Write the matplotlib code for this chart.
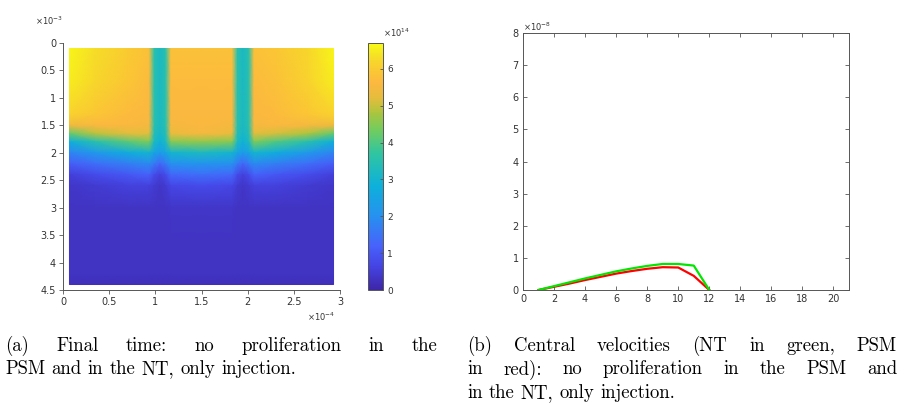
import numpy as np
import matplotlib
matplotlib.use('Agg')
import matplotlib.pyplot as plt
from matplotlib.colors import LinearSegmentedColormap
from matplotlib.ticker import FormatStrFormatter

# ---- data (scaled units: x 1e-4, y 1e-3, field 1e14, velocity 1e-8) ----
field_x = [0.07, 0.35, 0.7, 0.93, 0.99, 1.05, 1.11, 1.17, 1.5,
           1.83, 1.89, 1.95, 2.01, 2.07, 2.3, 2.65, 2.93]
field_y = [0.1, 0.7, 1.3, 1.5, 1.65, 1.8, 2.0, 2.2, 2.4, 2.6, 3.0, 3.6, 4.2, 4.4]
field_c = [
    [6.6, 6.3, 6.0, 5.8, 3.5, 3.2, 3.5, 5.8, 5.8, 5.8, 3.5, 3.2, 3.5, 5.8, 5.9, 6.2, 6.6],
    [6.5, 6.2, 5.9, 5.7, 3.5, 3.2, 3.5, 5.7, 5.7, 5.7, 3.5, 3.2, 3.5, 5.7, 5.8, 6.1, 6.5],
    [6.1, 5.9, 5.7, 5.6, 3.5, 3.2, 3.5, 5.6, 5.6, 5.6, 3.5, 3.2, 3.5, 5.6, 5.7, 5.9, 6.1],
    [5.4, 5.6, 5.6, 5.5, 3.5, 3.2, 3.5, 5.5, 5.6, 5.5, 3.5, 3.2, 3.5, 5.5, 5.6, 5.5, 5.4],
    [4.2, 4.9, 5.2, 5.2, 3.4, 3.1, 3.4, 5.3, 5.5, 5.3, 3.4, 3.1, 3.4, 5.2, 5.1, 4.8, 4.2],
    [2.8, 3.5, 4.1, 4.4, 3.2, 2.9, 3.2, 4.5, 4.6, 4.5, 3.2, 2.9, 3.2, 4.4, 4.0, 3.5, 2.8],
    [1.8, 2.2, 2.7, 3.0, 2.5, 2.3, 2.5, 3.0, 3.2, 3.0, 2.5, 2.3, 2.5, 3.0, 2.7, 2.2, 1.8],
    [1.1, 1.4, 1.7, 1.9, 1.6, 1.3, 1.6, 2.0, 2.1, 2.0, 1.6, 1.3, 1.6, 1.9, 1.7, 1.4, 1.1],
    [0.55, 0.8, 1.0, 1.2, 0.8, 0.6, 0.8, 1.3, 1.4, 1.3, 0.8, 0.6, 0.8, 1.2, 1.0, 0.8, 0.55],
    [0.35, 0.45, 0.6, 0.6, 0.45, 0.35, 0.45, 0.7, 0.8, 0.7, 0.45, 0.35, 0.45, 0.6, 0.6, 0.45, 0.35],
    [0.3, 0.3, 0.3, 0.3, 0.3, 0.3, 0.3, 0.35, 0.35, 0.35, 0.3, 0.3, 0.3, 0.3, 0.3, 0.3, 0.3],
    [0.3, 0.3, 0.3, 0.3, 0.3, 0.3, 0.3, 0.3, 0.3, 0.3, 0.3, 0.3, 0.3, 0.3, 0.3, 0.3, 0.3],
    [0.3, 0.3, 0.3, 0.3, 0.3, 0.3, 0.3, 0.3, 0.3, 0.3, 0.3, 0.3, 0.3, 0.3, 0.3, 0.3, 0.3],
    [0.2, 0.2, 0.2, 0.2, 0.2, 0.2, 0.2, 0.2, 0.2, 0.2, 0.2, 0.2, 0.2, 0.2, 0.2, 0.2, 0.2],
]
field_max = 6.7

vel_t = [1, 2, 3, 4, 5, 6, 7, 8, 9, 10, 11, 12]
vel_nt = [0, 0.12, 0.24, 0.36, 0.47, 0.58, 0.67, 0.75, 0.81, 0.81, 0.76, 0]
vel_psm = [0, 0.1, 0.2, 0.31, 0.41, 0.51, 0.59, 0.66, 0.71, 0.7, 0.44, 0]

caption_a = ["(a) Final time:  no proliferation in the",
             "PSM and in the NT, only injection."]
caption_b = ["(b) Central velocities (NT in green, PSM",
             "in red):  no proliferation in the PSM and",
             "in the NT, only injection."]

# parula-like colormap
parula = LinearSegmentedColormap.from_list('parula', [
    (0.00, (0.2422, 0.1504, 0.6603)),
    (0.10, (0.2700, 0.2700, 0.9000)),
    (0.18, (0.2780, 0.3870, 0.9850)),
    (0.30, (0.1500, 0.5700, 0.9400)),
    (0.42, (0.0500, 0.6900, 0.8600)),
    (0.55, (0.1800, 0.7700, 0.6400)),
    (0.65, (0.4500, 0.8000, 0.3700)),
    (0.72, (0.6800, 0.7700, 0.2400)),
    (0.78, (0.9000, 0.7400, 0.2400)),
    (0.84, (0.9900, 0.7200, 0.2500)),
    (0.90, (0.9800, 0.8000, 0.1900)),
    (0.95, (0.9600, 0.8800, 0.1500)),
    (1.00, (0.9769, 0.9839, 0.0805)),
])

W, H = 898, 418
axcol = '#555555'
txtcol = '#333333'
fig = plt.figure(figsize=(W / 100, H / 100), dpi=100)


def box(x0, y0, x1, y1):
    # pixel box -> figure fraction rect
    return [x0 / W, 1 - y1 / H, (x1 - x0) / W, (y1 - y0) / H]


# ---- (a) heat map ----
ax1 = fig.add_axes(box(63, 43, 340, 290))
X, Y = np.meshgrid(field_x, field_y)
mesh = ax1.pcolormesh(X, Y, np.array(field_c), cmap=parula, vmin=0, vmax=field_max,
                      shading='gouraud')
ax1.set_xlim(0, 3)
ax1.set_ylim(4.5, 0)
ax1.set_xticks(np.arange(0, 3.01, 0.5))
ax1.set_yticks(np.arange(0, 4.51, 0.5))
ax1.xaxis.set_major_formatter(FormatStrFormatter('%g'))
ax1.yaxis.set_major_formatter(FormatStrFormatter('%g'))
for s in ['top', 'right']:
    ax1.spines[s].set_visible(False)
for s in ['left', 'bottom']:
    ax1.spines[s].set_color(axcol)
    ax1.spines[s].set_linewidth(0.7)
ax1.tick_params(direction='out', length=3, width=0.6, color=axcol,
                labelsize=7, labelcolor=txtcol, pad=2)
fig.text(35 / W, 1 - 21 / H, r'$\times10^{-3}$', fontsize=6, color=txtcol, va='center')
fig.text(307 / W, 1 - 317 / H, r'$\times10^{-4}$', fontsize=6, color=txtcol, va='center')

cax = fig.add_axes(box(368, 43, 383, 290))
cb = fig.colorbar(mesh, cax=cax)
cb.set_ticks(range(0, 7))
cb.outline.set_edgecolor(axcol)
cb.outline.set_linewidth(0.7)
cax.tick_params(direction='in', length=2, width=0.6, color=axcol,
                labelsize=6.5, labelcolor=txtcol, pad=3)
fig.text(383 / W, 1 - 33 / H, r'$\times10^{14}$', fontsize=6, color=txtcol, va='center')

# ---- (b) velocities ----
ax2 = fig.add_axes(box(523, 33, 849, 290))
ax2.plot(vel_t, vel_psm, color='#ff0000', lw=1.6)
ax2.plot(vel_t, vel_nt, color='#00e600', lw=1.6)
ax2.set_xlim(0, 21)
ax2.set_ylim(0, 8)
ax2.set_xticks(range(0, 21, 2))
ax2.set_yticks(range(0, 9))
for s in ax2.spines.values():
    s.set_color(axcol)
    s.set_linewidth(0.7)
ax2.tick_params(direction='in', length=3, width=0.6, color=axcol, top=True, right=True,
                labelsize=7, labelcolor=txtcol, pad=3)
fig.text(523 / W, 1 - 27 / H, r'$\times10^{-8}$', fontsize=6, color=txtcol, va='center')

# ---- captions (justified like LaTeX) ----
renderer = fig.canvas.get_renderer()
cap_size = 13.5


def text_width(s):
    t = fig.text(0, 0, s, fontsize=cap_size, family='cmr10')
    w = t.get_window_extent(renderer).width
    t.remove()
    return w


space = text_width('a a') - text_width('aa')


def caption_line(line, x0, x1, y, justify):
    words = line.split()
    texts = [fig.text(0, 1 - y / H, w, fontsize=cap_size, family='cmr10',
                      va='baseline', ha='left') for w in words]
    widths = [t.get_window_extent(renderer).width for t in texts]
    gap = space
    if justify and len(words) > 1:
        gap = max((x1 - x0 - sum(widths)) / (len(words) - 1), 0.6 * space)
    pos = x0
    for t, w in zip(texts, widths):
        t.set_x(pos / W)
        pos += w + gap


base = [351, 374.5, 398]
for i, line in enumerate(caption_a):
    caption_line(line, 5, 437, base[i], i < len(caption_a) - 1)
for i, line in enumerate(caption_b):
    caption_line(line, 467, 897, base[i], i < len(caption_b) - 1)

fig.savefig('out.png', dpi=100)
